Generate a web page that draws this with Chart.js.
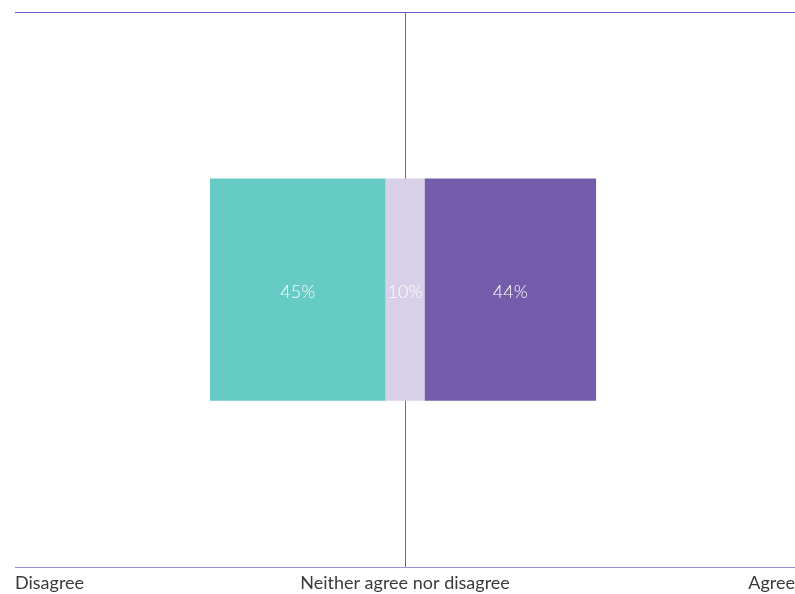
<!DOCTYPE html>
<html>
<head>
<meta charset="utf-8">
<script src="https://cdn.jsdelivr.net/npm/chart.js@4.4.1/dist/chart.umd.min.js"></script>
<style>
  html, body { margin: 0; padding: 0; background: #fff; overflow: hidden; }
  canvas { display: block; }
</style>
</head>
<body>
<canvas id="ch" width="800" height="599"></canvas>
<script>
// respostas: discorda / neutro / concorda (%)
const categorias = ["Disagree", "Neither agree nor disagree", "Agree"];
const percentuais = [45, 10, 44];
const cores = ["#66cbc4", "#d8d0e8", "#735caa"];
const valoresEixo = [-100, 0, 100];
const rotulosEixo = ["Disagree", "Neither agree nor disagree", "Agree"];

const ROXO = "#7559bd";
const ROXO_CLARO = "#a08cd2";
const FONTE = "Lato, 'Open Sans', sans-serif";

// neutro centrado no zero, discorda à esquerda, concorda à direita
const meio = percentuais[1] / 2;
const faixas = [
  [-meio - percentuais[0], -meio],
  [-meio, meio],
  [meio, meio + percentuais[2]]
];

const rotulosBarra = {
  id: "rotulosBarra",
  afterDatasetsDraw(chart) {
    const ctx = chart.ctx;
    ctx.save();
    ctx.font = "300 18px " + FONTE;
    ctx.fillStyle = "#ffffff";
    ctx.textAlign = "center";
    ctx.textBaseline = "middle";
    chart.data.datasets.forEach((ds, i) => {
      const bar = chart.getDatasetMeta(i).data[0];
      if (!bar) return;
      const { x, base, y } = bar.getProps(["x", "base", "y"], true);
      ctx.fillText(percentuais[i] + "%", (x + base) / 2, y + 2);
    });
    ctx.restore();
  }
};

new Chart(document.getElementById("ch"), {
  type: "bar",
  data: {
    labels: [""],
    datasets: categorias.map((c, i) => ({
      label: c,
      data: [faixas[i]],
      backgroundColor: cores[i],
      borderWidth: 0,
      grouped: false,
      barPercentage: 0.5,
      categoryPercentage: 0.8
    }))
  },
  options: {
    indexAxis: "y",
    responsive: false,
    animation: false,
    layout: { padding: { left: 15, top: 12, right: 0, bottom: 0 } },
    plugins: { legend: { display: false }, tooltip: { enabled: false } },
    scales: {
      y: { display: false },
      x: {
        min: -100, max: 100,
        position: "bottom",
        afterBuildTicks: ax => { ax.ticks = valoresEixo.map(v => ({ value: v })); },
        ticks: {
          align: "inner",
          autoSkip: false,
          maxRotation: 0,
          padding: 5,
          color: "#3a3a3a",
          font: { family: FONTE, size: 18 },
          callback: (v, i) => rotulosEixo[i]
        },
        grid: {
          drawTicks: false,
          lineWidth: 1,
          color: c => (c.index === 1 ? ROXO : "rgba(255,255,255,0)")
        },
        border: { display: true, color: ROXO_CLARO, width: 1 }
      },
      x2: {
        min: -100, max: 100,
        position: "top",
        ticks: { display: false },
        grid: { display: false, drawTicks: false },
        border: { display: true, color: ROXO, width: 1 }
      }
    }
  },
  plugins: [rotulosBarra]
});
</script>
</body>
</html>
